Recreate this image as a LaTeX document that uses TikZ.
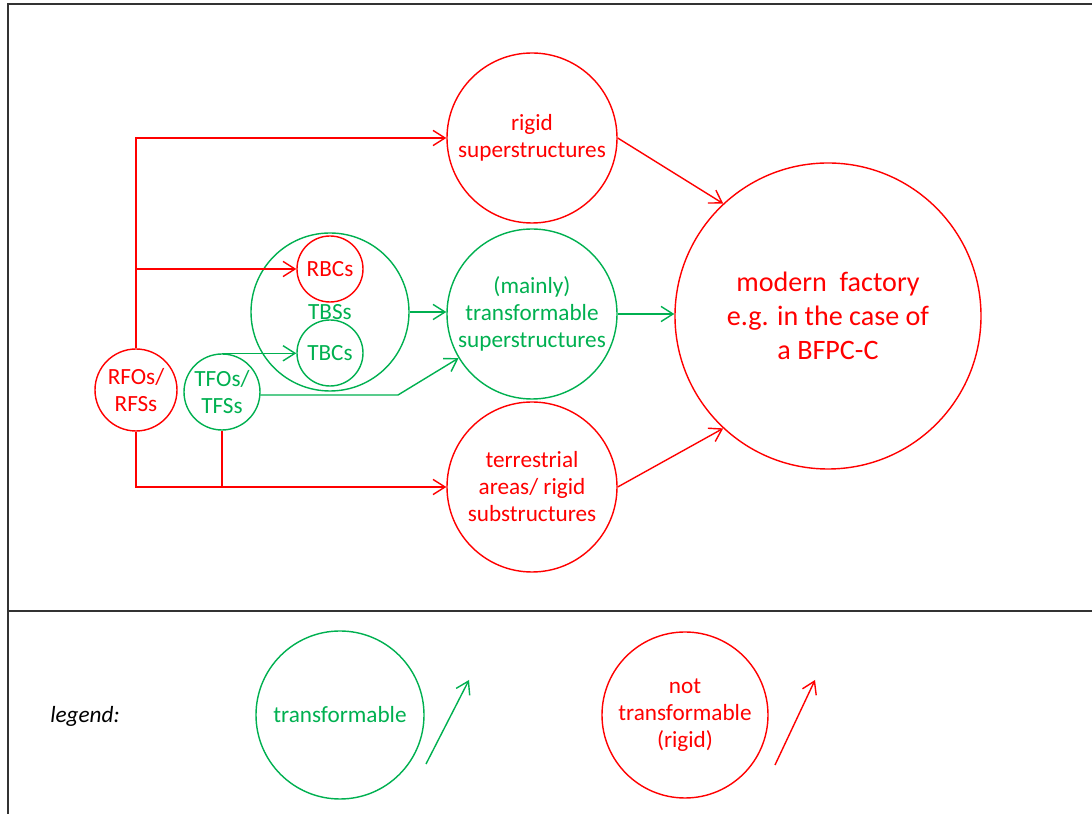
\documentclass[tikz,border=0pt]{standalone}
\usepackage{fontspec}
\setmainfont{Carlito}
\usetikzlibrary{arrows.meta}
\definecolor{rigidred}{RGB}{255,0,0}
\definecolor{transgreen}{RGB}{0,176,80}

\begin{document}
\begin{tikzpicture}[line width=1pt,>={Straight Barb[length=3mm,width=3.8mm]},
  rcirc/.style={circle,draw=rigidred,text=rigidred,align=center,inner sep=0pt,
    font=\fontsize{16.5}{19.2}\selectfont},
  gcirc/.style={circle,draw=transgreen,text=transgreen,align=center,inner sep=0pt,
    font=\fontsize{16.5}{19.2}\selectfont},
  rline/.style={->,draw=rigidred},
  gline/.style={->,draw=transgreen}]
  \useasboundingbox (0,0) rectangle (27.3,20.35);
  % frame and legend separator
  \draw[black!80,line width=1.6pt] (0.2,0) -- (0.2,20.25) -- (27.3,20.25);
  \draw[black!80,line width=1.6pt] (0.2,5.075) -- (27.3,5.075);
  % superstructures and factory
  \node[rcirc,minimum size=4.25cm] (rigid) at (13.3,16.9) {rigid\\superstructures};
  \node[gcirc,minimum size=4.25cm] (mts) at (13.3,12.5) {(mainly)\\transformable\\superstructures};
  \node[rcirc,minimum size=4.25cm] (terr) at (13.3,8.175) {terrestrial\\areas/ rigid\\substructures};
  \node[rcirc,minimum size=7.65cm,font=\fontsize{20}{24}\selectfont] (fac) at (20.7,12.45)
    {modern\ \ factory\\e.g. in the case of\\a BFPC-C};
  % building systems with their components
  \node[gcirc,minimum size=3.95cm] (tbs) at (8.25,12.55) {TBSs};
  \node[rcirc,minimum size=1.65cm] (rbc) at (8.25,13.625) {RBCs};
  \node[gcirc,minimum size=1.65cm] (tbc) at (8.25,11.525) {TBCs};
  % objects and structures on the left
  \node[rcirc,minimum size=2.05cm] (rfo) at (3.4,10.6) {RFOs/\\RFSs};
  \node[gcirc,minimum size=1.9cm] (tfo) at (5.55,10.55) {TFOs/\\TFSs};
  % red connectors
  \draw[rline] (rfo.north) |- (rigid.west);
  \draw[rline] (rfo.north |- rbc.west) -- (rbc.west);
  \draw[rline] (rfo.south) |- (terr.west);
  \draw[rigidred] (tfo.south) -- (tfo.south |- terr.west);
  \draw[rline] (rigid.east) -- (fac.133);
  \draw[rline] (terr.east) -- (fac.227);
  % green connectors
  \coordinate (kink) at (9.95,10.475);
  \draw[gline] (tfo.north) -- (tfo.north -| tbc.west);
  \draw[gline] (tfo.east |- kink) -- (kink) -- (mts.211);
  \draw[gline] (tbs.east) -- (tbs.east -| mts.west);
  \draw[gline] (mts.east) -- (mts.east -| fac.west);
  % legend
  \node[font=\fontsize{16.5}{19.2}\selectfont\itshape] (leg) at (2.125,2.45) {legend:};
  \node[gcirc,minimum size=4.2cm] (legT) at (8.5,2.475) {transformable};
  \node[rcirc,minimum size=4.15cm] (legR) at (17.125,2.475) {not\\transformable\\(rigid)};
  \coordinate (gs) at (10.65,1.25);
  \coordinate (ge) at (11.725,3.35);
  \draw[gline] (gs) -- (ge);
  \coordinate (rs) at (19.375,1.225);
  \coordinate (re) at (20.375,3.35);
  \draw[rline] (rs) -- (re);
\end{tikzpicture}
\end{document}
